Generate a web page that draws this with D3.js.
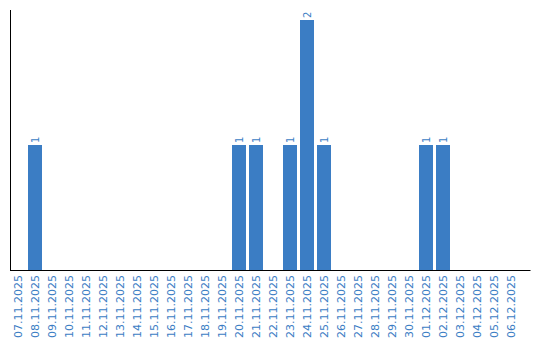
<!DOCTYPE html>
<html><head><meta charset="utf-8">
<script src="https://cdn.jsdelivr.net/npm/d3@7/dist/d3.min.js"></script>
<style>body{margin:0;background:#fff}svg{display:block}</style>
</head><body>
<svg id="c" width="540" height="340"></svg>
<script>
const dates = ["07.11.2025","08.11.2025","09.11.2025","10.11.2025","11.11.2025","12.11.2025","13.11.2025","14.11.2025","15.11.2025","16.11.2025","17.11.2025","18.11.2025","19.11.2025","20.11.2025","21.11.2025","22.11.2025","23.11.2025","24.11.2025","25.11.2025","26.11.2025","27.11.2025","28.11.2025","29.11.2025","30.11.2025","01.12.2025","02.12.2025","03.12.2025","04.12.2025","05.12.2025","06.12.2025"];
const values = [0,1,0,0,0,0,0,0,0,0,0,0,0,1,1,0,1,2,1,0,0,0,0,0,1,1,0,0,0,0];
const yMax = 2;

const svg = d3.select("#c");
const color = "#3b7dc4";
const x = d3.scaleBand().domain(dates).range([9.5, 519.5]).paddingInner(3/17).paddingOuter(1.5/17);
const y = d3.scaleLinear().domain([0, yMax]).range([270, 20]);

const data = dates.map((d,i)=>({d, v: values[i]}));

svg.selectAll("rect.bar").data(data.filter(e=>e.v>0)).enter().append("rect")
  .attr("class","bar")
  .attr("x", e=>x(e.d)).attr("width", x.bandwidth())
  .attr("y", e=>y(e.v)).attr("height", e=>y(0)-y(e.v))
  .attr("fill", color);

svg.selectAll("text.val").data(data.filter(e=>e.v>0)).enter().append("text")
  .attr("class","val")
  .attr("transform", e=>`translate(${x(e.d)+x.bandwidth()/2+3.5},${y(e.v)-2}) rotate(-90)`)
  .attr("font-family","DejaVu Sans").attr("font-size","10px")
  .attr("fill", color).text(e=>e.v);

// x axis
const xAxis = d3.axisBottom(x).tickSize(0).tickPadding(0);
const gx = svg.append("g").attr("transform","translate(0,270)").call(xAxis);
gx.select(".domain").remove();
gx.selectAll(".tick text")
  .attr("font-family","DejaVu Sans").attr("font-size","11px").attr("fill", color)
  .attr("text-anchor","end").attr("dy",null)
  .attr("transform","translate(4,5) rotate(-90)");

// axis lines
svg.append("line").attr("x1",10.5).attr("x2",10.5).attr("y1",10).attr("y2",270.5).attr("stroke","#000").attr("stroke-width",1);
svg.append("line").attr("x1",10).attr("x2",530.5).attr("y1",270.5).attr("y2",270.5).attr("stroke","#000").attr("stroke-width",1);
</script>
</body></html>
